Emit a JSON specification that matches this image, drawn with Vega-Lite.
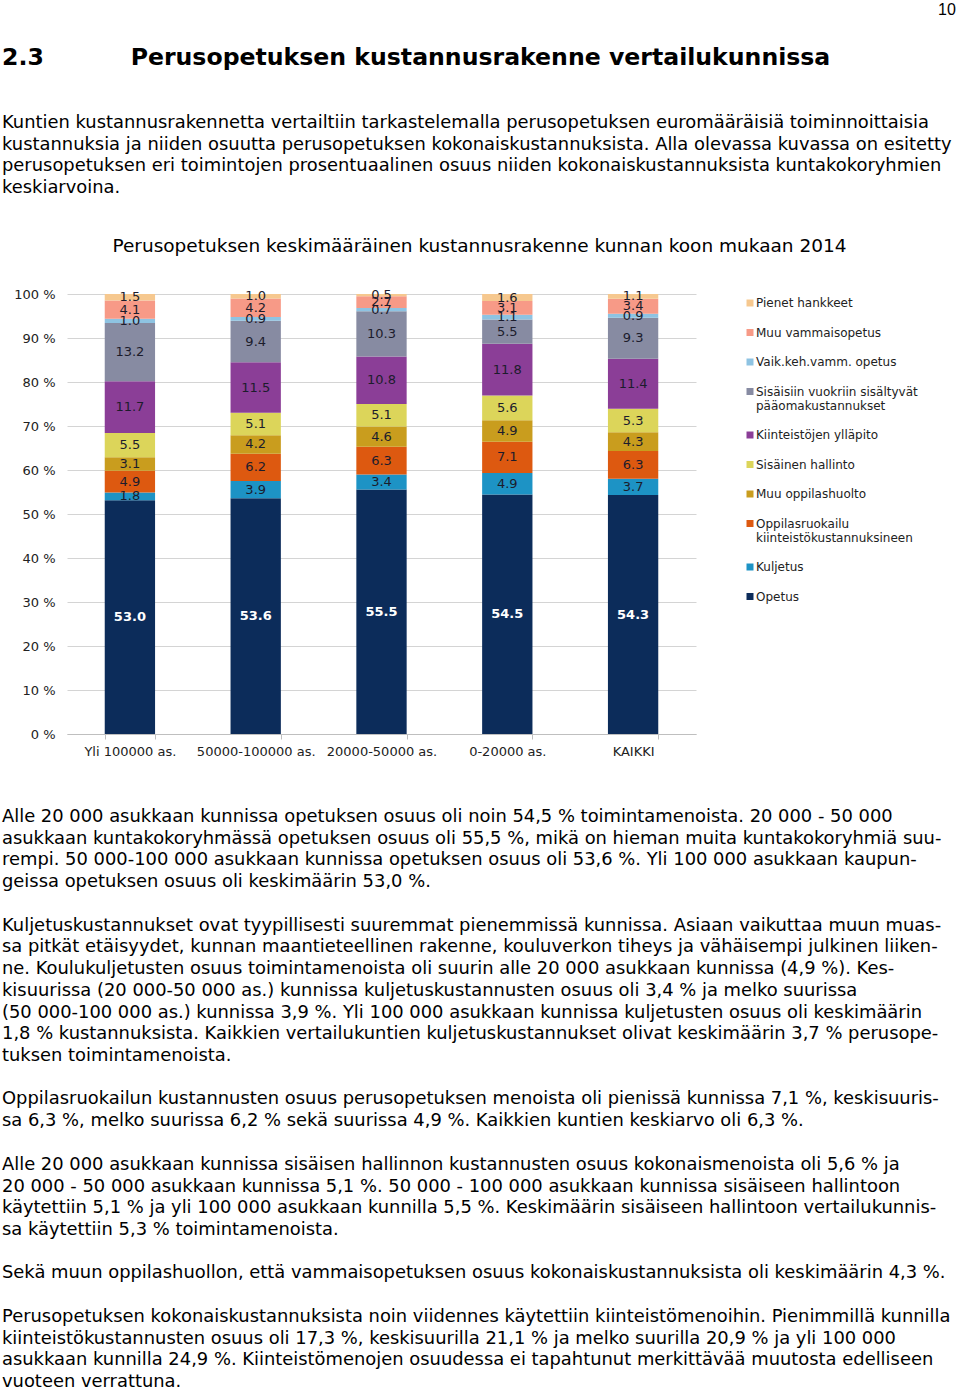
{
  "$schema": "https://vega.github.io/schema/vega-lite/v6.json",
  "background": "white",
  "padding": {"left": 2, "right": 2, "top": 2, "bottom": 0},
  "title": {"text": "10", "anchor": "start", "dx": 936, "font": "Liberation Sans", "fontSize": 16, "fontWeight": "normal", "color": "#000", "offset": 28},
  "spacing": 28,
  "resolve": {"scale": {"color": "independent"}, "legend": {"color": "independent"}},
  "vconcat": [
    {
      "width": 880,
      "height": 1,
      "title": {
        "text": "2.3\u00a0\u00a0\u00a0\u00a0\u00a0\u00a0\u00a0\u00a0\u00a0\u00a0\u2009Perusopetuksen kustannusrakenne vertailukunnissa",
        "subtitle": [
          "Kuntien kustannusrakennetta vertailtiin tarkastelemalla perusopetuksen euromääräisiä toiminnoittaisia",
          "kustannuksia ja niiden osuutta perusopetuksen kokonaiskustannuksista. Alla olevassa kuvassa on esitetty",
          "perusopetuksen eri toimintojen prosentuaalinen osuus niiden kokonaiskustannuksista kuntakokoryhmien",
          "keskiarvoina."
        ],
        "anchor": "start",
        "frame": "bounds",
        "dx": -65,
        "font": "DejaVu Sans",
        "fontSize": 23.6,
        "fontWeight": "bold",
        "color": "#000",
        "subtitleFont": "DejaVu Sans",
        "subtitleFontSize": 17.9,
        "subtitleColor": "#000",
        "subtitleLineHeight": 21.7,
        "subtitlePadding": 44,
        "offset": 10
      },
      "data": {"values": []},
      "mark": "text"
    },
    {
      "spacing": 49,
      "resolve": {"scale": {"color": "independent"}, "legend": {"color": "independent"}},
      "vconcat": [
        {
          "title": {
            "text": "Perusopetuksen keskimääräinen kustannusrakenne kunnan koon mukaan 2014",
            "font": "DejaVu Sans",
            "fontSize": 18.5,
            "fontWeight": "normal",
            "color": "#000",
            "anchor": "middle",
            "frame": "group",
            "dx": 98,
            "offset": 33
          },
          "width": 629,
          "height": 440,
          "data": {
            "values": [
              {"group": "Yli 100000 as.", "cat": "Opetus", "rank": 1, "value": 53.0},
              {"group": "Yli 100000 as.", "cat": "Kuljetus", "rank": 2, "value": 1.8},
              {"group": "Yli 100000 as.", "cat": "Oppilasruokailu kiinteistökustannuksineen", "rank": 3, "value": 4.9},
              {"group": "Yli 100000 as.", "cat": "Muu oppilashuolto", "rank": 4, "value": 3.1},
              {"group": "Yli 100000 as.", "cat": "Sisäinen hallinto", "rank": 5, "value": 5.5},
              {"group": "Yli 100000 as.", "cat": "Kiinteistöjen ylläpito", "rank": 6, "value": 11.7},
              {"group": "Yli 100000 as.", "cat": "Sisäisiin vuokriin sisältyvät pääomakustannukset", "rank": 7, "value": 13.2},
              {"group": "Yli 100000 as.", "cat": "Vaik.keh.vamm. opetus", "rank": 8, "value": 1.0},
              {"group": "Yli 100000 as.", "cat": "Muu vammaisopetus", "rank": 9, "value": 4.1},
              {"group": "Yli 100000 as.", "cat": "Pienet hankkeet", "rank": 10, "value": 1.5},
              {"group": "50000-100000 as.", "cat": "Opetus", "rank": 1, "value": 53.6},
              {"group": "50000-100000 as.", "cat": "Kuljetus", "rank": 2, "value": 3.9},
              {"group": "50000-100000 as.", "cat": "Oppilasruokailu kiinteistökustannuksineen", "rank": 3, "value": 6.2},
              {"group": "50000-100000 as.", "cat": "Muu oppilashuolto", "rank": 4, "value": 4.2},
              {"group": "50000-100000 as.", "cat": "Sisäinen hallinto", "rank": 5, "value": 5.1},
              {"group": "50000-100000 as.", "cat": "Kiinteistöjen ylläpito", "rank": 6, "value": 11.5},
              {"group": "50000-100000 as.", "cat": "Sisäisiin vuokriin sisältyvät pääomakustannukset", "rank": 7, "value": 9.4},
              {"group": "50000-100000 as.", "cat": "Vaik.keh.vamm. opetus", "rank": 8, "value": 0.9},
              {"group": "50000-100000 as.", "cat": "Muu vammaisopetus", "rank": 9, "value": 4.2},
              {"group": "50000-100000 as.", "cat": "Pienet hankkeet", "rank": 10, "value": 1.0},
              {"group": "20000-50000 as.", "cat": "Opetus", "rank": 1, "value": 55.5},
              {"group": "20000-50000 as.", "cat": "Kuljetus", "rank": 2, "value": 3.4},
              {"group": "20000-50000 as.", "cat": "Oppilasruokailu kiinteistökustannuksineen", "rank": 3, "value": 6.3},
              {"group": "20000-50000 as.", "cat": "Muu oppilashuolto", "rank": 4, "value": 4.6},
              {"group": "20000-50000 as.", "cat": "Sisäinen hallinto", "rank": 5, "value": 5.1},
              {"group": "20000-50000 as.", "cat": "Kiinteistöjen ylläpito", "rank": 6, "value": 10.8},
              {"group": "20000-50000 as.", "cat": "Sisäisiin vuokriin sisältyvät pääomakustannukset", "rank": 7, "value": 10.3},
              {"group": "20000-50000 as.", "cat": "Vaik.keh.vamm. opetus", "rank": 8, "value": 0.7},
              {"group": "20000-50000 as.", "cat": "Muu vammaisopetus", "rank": 9, "value": 2.7},
              {"group": "20000-50000 as.", "cat": "Pienet hankkeet", "rank": 10, "value": 0.5},
              {"group": "0-20000 as.", "cat": "Opetus", "rank": 1, "value": 54.5},
              {"group": "0-20000 as.", "cat": "Kuljetus", "rank": 2, "value": 4.9},
              {"group": "0-20000 as.", "cat": "Oppilasruokailu kiinteistökustannuksineen", "rank": 3, "value": 7.1},
              {"group": "0-20000 as.", "cat": "Muu oppilashuolto", "rank": 4, "value": 4.9},
              {"group": "0-20000 as.", "cat": "Sisäinen hallinto", "rank": 5, "value": 5.6},
              {"group": "0-20000 as.", "cat": "Kiinteistöjen ylläpito", "rank": 6, "value": 11.8},
              {"group": "0-20000 as.", "cat": "Sisäisiin vuokriin sisältyvät pääomakustannukset", "rank": 7, "value": 5.5},
              {"group": "0-20000 as.", "cat": "Vaik.keh.vamm. opetus", "rank": 8, "value": 1.1},
              {"group": "0-20000 as.", "cat": "Muu vammaisopetus", "rank": 9, "value": 3.1},
              {"group": "0-20000 as.", "cat": "Pienet hankkeet", "rank": 10, "value": 1.6},
              {"group": "KAIKKI", "cat": "Opetus", "rank": 1, "value": 54.3},
              {"group": "KAIKKI", "cat": "Kuljetus", "rank": 2, "value": 3.7},
              {"group": "KAIKKI", "cat": "Oppilasruokailu kiinteistökustannuksineen", "rank": 3, "value": 6.3},
              {"group": "KAIKKI", "cat": "Muu oppilashuolto", "rank": 4, "value": 4.3},
              {"group": "KAIKKI", "cat": "Sisäinen hallinto", "rank": 5, "value": 5.3},
              {"group": "KAIKKI", "cat": "Kiinteistöjen ylläpito", "rank": 6, "value": 11.4},
              {"group": "KAIKKI", "cat": "Sisäisiin vuokriin sisältyvät pääomakustannukset", "rank": 7, "value": 9.3},
              {"group": "KAIKKI", "cat": "Vaik.keh.vamm. opetus", "rank": 8, "value": 0.9},
              {"group": "KAIKKI", "cat": "Muu vammaisopetus", "rank": 9, "value": 3.4},
              {"group": "KAIKKI", "cat": "Pienet hankkeet", "rank": 10, "value": 1.1}
            ]
          },
          "transform": [
            {"stack": "value", "groupby": ["group"], "sort": [{"field": "rank", "order": "ascending"}], "offset": "normalize", "as": ["v0", "v1"]},
            {"calculate": "(datum.v0 + datum.v1) / 2", "as": "mid"}
          ],
          "encoding": {
            "x": {
              "field": "group", "type": "nominal",
              "sort": ["Yli 100000 as.", "50000-100000 as.", "20000-50000 as.", "0-20000 as.", "KAIKKI"],
              "scale": {"paddingInner": 0.6, "paddingOuter": 0.3},
              "axis": {"title": null, "labelAngle": 0, "ticks": true, "tickBand": "extent", "tickSize": 5, "tickColor": "#bfbfbf", "domainColor": "#bfbfbf", "labelFont": "DejaVu Sans", "labelFontSize": 13, "labelColor": "#222", "labelPadding": 6, "grid": false}
            }
          },
          "layer": [
            {
              "mark": {"type": "bar"},
              "encoding": {
                "y": {
                  "field": "v1", "type": "quantitative",
                  "scale": {"domain": [0, 1], "nice": false},
                  "axis": {"title": null, "values": [0, 0.1, 0.2, 0.3, 0.4, 0.5, 0.6, 0.7, 0.8, 0.9, 1], "labelExpr": "round(datum.value * 100) + ' %'", "domain": false, "ticks": false, "grid": true, "gridColor": "#d4d4d4", "labelPadding": 12, "minExtent": 65, "labelFont": "DejaVu Sans", "labelFontSize": 13, "labelColor": "#222"}
                },
                "y2": {"field": "v0"},
                "color": {
                  "field": "cat", "type": "nominal",
                  "scale": {
                    "domain": ["Pienet hankkeet", "Muu vammaisopetus", "Vaik.keh.vamm. opetus", "Sisäisiin vuokriin sisältyvät pääomakustannukset", "Kiinteistöjen ylläpito", "Sisäinen hallinto", "Muu oppilashuolto", "Oppilasruokailu kiinteistökustannuksineen", "Kuljetus", "Opetus"],
                    "range": ["#F6C88F", "#F79A87", "#8EC3E2", "#878BA2", "#8B3E97", "#DCD55A", "#C99D1E", "#DD5910", "#1D93C5", "#0C2C5A"]
                  },
                  "legend": {
                    "title": null, "orient": "right", "offset": 45, "padding": 3,
                    "symbolType": "square", "symbolSize": 49, "symbolStrokeWidth": 0,
                    "labelFont": "DejaVu Sans", "labelFontSize": 12, "labelColor": "#222", "labelLimit": 300, "labelOffset": 0,
                    "rowPadding": 17.5,
                    "labelExpr": "datum.label == 'Sisäisiin vuokriin sisältyvät pääomakustannukset' ? ['Sisäisiin vuokriin sisältyvät', 'pääomakustannukset'] : datum.label == 'Oppilasruokailu kiinteistökustannuksineen' ? ['Oppilasruokailu', 'kiinteistökustannuksineen'] : datum.label"
                  }
                }
              }
            },
            {
              "transform": [{"filter": "datum.cat != 'Opetus'"}],
              "mark": {"type": "text", "font": "DejaVu Sans", "fontSize": 13, "color": "#1c1c2c"},
              "encoding": {
                "y": {"field": "mid", "type": "quantitative"},
                "text": {"field": "value", "type": "quantitative", "format": ".1f"}
              }
            },
            {
              "transform": [{"filter": "datum.cat == 'Opetus'"}],
              "mark": {"type": "text", "font": "DejaVu Sans", "fontSize": 13, "fontWeight": "bold", "color": "#ffffff"},
              "encoding": {
                "y": {"field": "mid", "type": "quantitative"},
                "text": {"field": "value", "type": "quantitative", "format": ".1f"}
              }
            }
          ]
        },
        {
          "spacing": 20,
          "vconcat": [
            {
              "width": 880, "height": 1,
              "title": {"text": [
                "Alle 20 000 asukkaan kunnissa opetuksen osuus oli noin 54,5 % toimintamenoista. 20 000 - 50 000",
                "asukkaan kuntakokoryhmässä opetuksen osuus oli 55,5 %, mikä on hieman muita kuntakokoryhmiä suu-",
                "rempi. 50 000-100 000 asukkaan kunnissa opetuksen osuus oli 53,6 %. Yli 100 000 asukkaan kaupun-",
                "geissa opetuksen osuus oli keskimäärin 53,0 %."
              ]},
              "data": {"values": []}, "mark": "text"
            },
            {
              "width": 880, "height": 1,
              "title": {"text": [
                "Kuljetuskustannukset ovat tyypillisesti suuremmat pienemmissä kunnissa. Asiaan vaikuttaa muun muas-",
                "sa pitkät etäisyydet, kunnan maantieteellinen rakenne, kouluverkon tiheys ja vähäisempi julkinen liiken-",
                "ne. Koulukuljetusten osuus toimintamenoista oli suurin alle 20 000 asukkaan kunnissa (4,9 %). Kes-",
                "kisuurissa (20 000-50 000 as.) kunnissa kuljetuskustannusten osuus oli 3,4 % ja melko suurissa",
                "(50 000-100 000 as.) kunnissa 3,9 %. Yli 100 000 asukkaan kunnissa kuljetusten osuus oli keskimäärin",
                "1,8 % kustannuksista. Kaikkien vertailukuntien kuljetuskustannukset olivat keskimäärin 3,7 % perusope-",
                "tuksen toimintamenoista."
              ]},
              "data": {"values": []}, "mark": "text"
            },
            {
              "width": 880, "height": 1,
              "title": {"text": [
                "Oppilasruokailun kustannusten osuus perusopetuksen menoista oli pienissä kunnissa 7,1 %, keskisuuris-",
                "sa 6,3 %, melko suurissa 6,2 % sekä suurissa 4,9 %. Kaikkien kuntien keskiarvo oli 6,3 %."
              ]},
              "data": {"values": []}, "mark": "text"
            },
            {
              "width": 880, "height": 1,
              "title": {"text": [
                "Alle 20 000 asukkaan kunnissa sisäisen hallinnon kustannusten osuus kokonaismenoista oli 5,6 % ja",
                "20 000 - 50 000 asukkaan kunnissa 5,1 %. 50 000 - 100 000 asukkaan kunnissa sisäiseen hallintoon",
                "käytettiin 5,1 % ja yli 100 000 asukkaan kunnilla 5,5 %. Keskimäärin sisäiseen hallintoon vertailukunnis-",
                "sa käytettiin 5,3 % toimintamenoista."
              ]},
              "data": {"values": []}, "mark": "text"
            },
            {
              "width": 880, "height": 1,
              "title": {"text": [
                "Sekä muun oppilashuollon, että vammaisopetuksen osuus kokonaiskustannuksista oli keskimäärin 4,3 %."
              ]},
              "data": {"values": []}, "mark": "text"
            },
            {
              "width": 880, "height": 1,
              "title": {"text": [
                "Perusopetuksen kokonaiskustannuksista noin viidennes käytettiin kiinteistömenoihin. Pienimmillä kunnilla",
                "kiinteistökustannusten osuus oli 17,3 %, keskisuurilla 21,1 % ja melko suurilla 20,9 % ja yli 100 000",
                "asukkaan kunnilla 24,9 %. Kiinteistömenojen osuudessa ei tapahtunut merkittävää muutosta edelliseen",
                "vuoteen verrattuna."
              ]},
              "data": {"values": []}, "mark": "text"
            }
          ]
        }
      ]
    }
  ],
  "config": {
    "view": {"stroke": null},
    "title": {"anchor": "start", "frame": "bounds", "dx": -65, "font": "DejaVu Sans", "fontSize": 17.9, "fontWeight": "normal", "color": "#000", "lineHeight": 21.75, "offset": 0}
  }
}
